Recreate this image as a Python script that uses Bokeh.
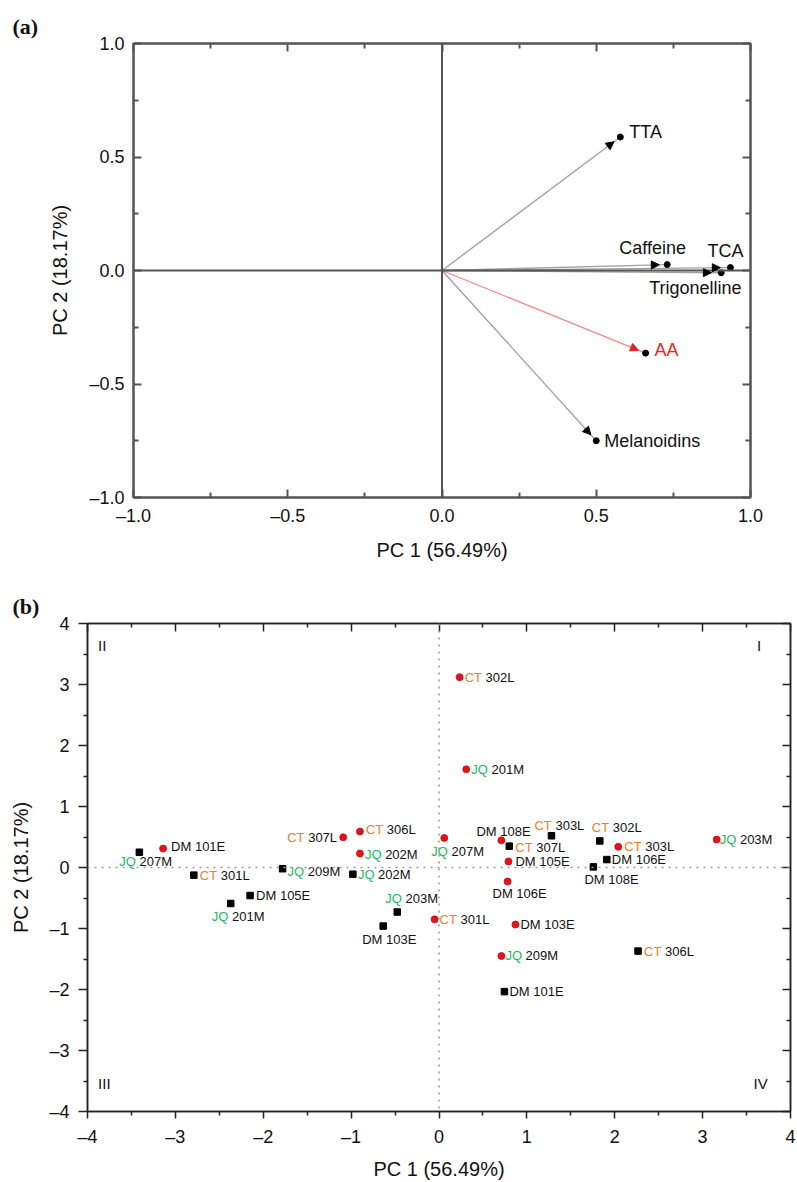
from bokeh.plotting import figure
from bokeh.models import (ColumnDataSource, Arrow, NormalHead, Span, Label,
                          LinearAxis, FixedTicker, Range1d, CustomJSTickFormatter)
from bokeh.core.properties import value
from bokeh.embed import file_html
from bokeh.resources import INLINE

FONT = "Liberation Sans"

# ---------------- data: panel (a) loadings ----------------
var_names = ["TTA", "Caffeine", "TCA", "Trigonelline", "AA", "Melanoidins"]
var_pc1 = [0.578, 0.730, 0.935, 0.905, 0.660, 0.500]
var_pc2 = [0.588, 0.026, 0.013, -0.010, -0.364, -0.750]
a_ticks = [-1.0, -0.5, 0.0, 0.5, 1.0]
a_tick_labels = ["\u20131.0", "\u20130.5", "0.0", "0.5", "1.0"]

# ---------------- data: panel (b) scores ----------------
b_pc1 = [-3.41, -3.14, -2.79, -1.78, -2.15, -2.37, -1.09, -0.90, -0.90, -0.98,
         -0.475, -0.635, -0.05, 0.06, 0.71, 0.80, 0.79, 0.78, 1.28, 1.83,
         2.04, 1.91, 1.757, 3.16, 0.87, 0.71, 0.745, 2.265, 0.235, 0.31]
b_pc2 = [0.25, 0.31, -0.125, -0.02, -0.46, -0.59, 0.495, 0.59, 0.23, -0.11,
         -0.73, -0.96, -0.85, 0.485, 0.445, 0.35, 0.10, -0.23, 0.52, 0.435,
         0.34, 0.13, 0.01, 0.457, -0.935, -1.45, -2.035, -1.37, 3.12, 1.61]
b_kind = ["sq", "ci", "sq", "sq", "sq", "sq", "ci", "ci", "ci", "sq",
          "sq", "sq", "ci", "ci", "ci", "sq", "ci", "ci", "sq", "sq",
          "ci", "sq", "sq", "ci", "ci", "ci", "sq", "sq", "ci", "ci"]
b_prefix = ["JQ", "DM", "CT", "JQ", "DM", "JQ", "CT", "CT", "JQ", "JQ",
            "JQ", "DM", "CT", "JQ", "DM", "CT", "DM", "DM", "CT", "CT",
            "CT", "DM", "DM", "JQ", "DM", "JQ", "DM", "CT", "CT", "JQ"]
b_suffix = ["207M", "101E", "301L", "209M", "105E", "201M", "307L", "306L", "202M", "202M",
            "203M", "103E", "301L", "207M", "108E", "307L", "105E", "106E", "303L", "302L",
            "303L", "106E", "108E", "203M", "103E", "209M", "101E", "306L", "302L", "201M"]
b_ticks = [-4, -3, -2, -1, 0, 1, 2, 3, 4]
b_tick_labels = ["\u20134", "\u20133", "\u20132", "\u20131", "0", "1", "2", "3", "4"]
quad_names = ["II", "I", "III", "IV"]

# ---------------- label placement (pixels) ----------------
a_lab_dx = [9, -48, -23, -72, 9, 8]
a_lab_dy = [-5, -17, -17, 15, -3, 0]
b_lab_dx = [-20, 8, 6, 5, 6, -19, -56, 6, 5, 5,
            -12, -21, 5, -13, -25, 6, 7, -15, -17, -8,
            6, 5, -9, 3, 5, 4, 5, 6, 5, 5]
b_lab_dy = [9, -2, 0, 3, 0, 13, 0, -2, 1, 0,
            -14, 13, 0, 14, -9, 1, 0, 12, -10, -13,
            0, 0, 13, 0, 0, 0, 0, 0, 0, 0]

AW = {'C': .722, 'T': .611, 'J': .5, 'Q': .778, 'D': .722, 'M': .833, ' ': .278}
def tw(s, size):
    return sum(AW.get(c, .556) for c in s) * size

PREFIX_COLORS = {"CT": "#f47d20", "JQ": "#22b860", "DM": "#111111"}


def tick_formatter(tv, tl):
    return CustomJSTickFormatter(args=dict(tvals=tv, tlabs=tl), code="""
        for (let i = 0; i < tvals.length; i++) {
            if (Math.abs(tvals[i] - tick) < 1e-9) { return tlabs[i]; }
        }
        return "";
    """)


def blank_formatter():
    return CustomJSTickFormatter(code="return '';")


def style_axis(ax, ticker, formatter, color, lw, tin, tout, min_in, min_out,
               font_size, standoff):
    ax.ticker = ticker
    ax.formatter = formatter
    ax.axis_line_color = color
    ax.axis_line_width = lw
    ax.major_tick_line_color = color
    ax.minor_tick_line_color = color
    ax.major_tick_line_width = lw
    ax.minor_tick_line_width = lw
    ax.major_tick_in = tin
    ax.major_tick_out = tout
    ax.minor_tick_in = min_in
    ax.minor_tick_out = min_out
    ax.major_label_text_font = FONT
    ax.major_label_text_font_size = font_size
    ax.major_label_text_color = "#111111"
    ax.major_label_standoff = standoff


def panel_title(p, text, offset):
    p.title.text = text
    p.title.align = "left"
    p.title.offset = offset
    p.title.text_font = "Liberation Serif"
    p.title.text_font_style = "bold"
    p.title.text_font_size = "22px"
    p.title.text_color = "#111111"


# ======================= panel (a) =======================
pa = figure(width=797, height=563, x_range=Range1d(-1, 1), y_range=Range1d(-1, 1),
            output_backend="svg", toolbar_location=None, title="(a)",
            min_border_left=133, min_border_right=47, min_border_top=43, min_border_bottom=63)
pa.grid.visible = False
pa.outline_line_color = "#555555"
pa.outline_line_width = 2
panel_title(pa, "(a)", -121)

a_ticker = FixedTicker(ticks=a_ticks, minor_ticks=[-0.75, -0.25, 0.25, 0.75])
style_axis(pa.xaxis[0], a_ticker, tick_formatter(a_ticks, a_tick_labels), "#555555", 2,
           8, 0, 5, 0, "18px", 8)
style_axis(pa.yaxis[0], a_ticker, tick_formatter(a_ticks, a_tick_labels), "#555555", 2,
           8, 0, 5, 0, "18px", 9)
pa.xaxis[0].axis_label = "PC 1 (56.49%)"
pa.yaxis[0].axis_label = "PC 2 (18.17%)"
for ax in (pa.xaxis[0], pa.yaxis[0]):
    ax.axis_label_text_font = FONT
    ax.axis_label_text_font_size = "20px"
    ax.axis_label_text_font_style = "normal"
    ax.axis_label_text_color = "#111111"
pa.xaxis[0].axis_label_standoff = 10
pa.yaxis[0].axis_label_standoff = 15

for loc in ("above", "right"):
    ax = LinearAxis()
    style_axis(ax, a_ticker, blank_formatter(), "#555555", 2, 8, 0, 5, 0, "0px", 0)
    pa.add_layout(ax, loc)

pa.add_layout(Span(location=0, dimension="width", line_color="#555555", line_width=2))
pa.add_layout(Span(location=0, dimension="height", line_color="#555555", line_width=2))

seg_colors = ["#f28b8b" if n == "AA" else "#a0a0a0" for n in var_names]
pa.segment(x0=[0] * len(var_names), y0=[0] * len(var_names), x1=var_pc1, y1=var_pc2,
           line_color=seg_colors, line_width=1.3)

idx_black = [i for i, n in enumerate(var_names) if n != "AA"]
idx_red = [i for i, n in enumerate(var_names) if n == "AA"]
for idx, col in ((idx_black, "black"), (idx_red, "#e82020")):
    src = ColumnDataSource(dict(
        x0=[0.0] * len(idx), y0=[0.0] * len(idx),
        x1=[0.965 * var_pc1[i] for i in idx], y1=[0.965 * var_pc2[i] for i in idx]))
    pa.add_layout(Arrow(end=NormalHead(size=8, fill_color=col, line_color=col, line_width=1),
                        x_start="x0", y_start="y0", x_end="x1", y_end="y1",
                        line_alpha=0, source=src))

pa.scatter(var_pc1, var_pc2, size=6, color="black", marker="circle")

a_lab_colors = ["#ff1a1a" if n == "AA" else "#111111" for n in var_names]
pa.text(x=var_pc1, y=var_pc2, text=var_names, x_offset=a_lab_dx, y_offset=a_lab_dy,
        text_color=a_lab_colors, text_font=value(FONT), text_font_size="18px",
        text_baseline="middle", text_align="left")

# ======================= panel (b) =======================
pb = figure(width=797, height=619, x_range=Range1d(-4, 4), y_range=Range1d(-4, 4),
            output_backend="svg", toolbar_location=None, title="(b)",
            min_border_left=87, min_border_right=7, min_border_top=60, min_border_bottom=69)
pb.grid.visible = False
pb.outline_line_color = "#222222"
pb.outline_line_width = 1.5
panel_title(pb, "(b)", -75)

b_minor = [t + 0.5 for t in b_ticks[:-1]]
b_ticker = FixedTicker(ticks=b_ticks, minor_ticks=b_minor)
style_axis(pb.xaxis[0], b_ticker, tick_formatter(b_ticks, b_tick_labels), "#222222", 1.5,
           0, 7, 0, 4, "18px", 8)
style_axis(pb.yaxis[0], b_ticker, tick_formatter(b_ticks, b_tick_labels), "#222222", 1.5,
           0, 9, 0, 4, "18px", 9)
pb.xaxis[0].axis_label = "PC 1 (56.49%)"
pb.yaxis[0].axis_label = "PC 2 (18.17%)"
for ax in (pb.xaxis[0], pb.yaxis[0]):
    ax.axis_label_text_font = FONT
    ax.axis_label_text_font_size = "20px"
    ax.axis_label_text_font_style = "normal"
    ax.axis_label_text_color = "#111111"
pb.xaxis[0].axis_label_standoff = 8
pb.yaxis[0].axis_label_standoff = 14

for loc in ("above", "right"):
    ax = LinearAxis()
    style_axis(ax, b_ticker, blank_formatter(), "#222222", 1.5, 8, 0, 4, 0, "0px", 0)
    pb.add_layout(ax, loc)

pb.add_layout(Span(location=0, dimension="width", line_color="#999999", line_width=1.5,
                   line_dash="2 5"))
pb.add_layout(Span(location=0, dimension="height", line_color="#999999", line_width=1.5,
                   line_dash="2 5"))

ci = [i for i, k in enumerate(b_kind) if k == "ci"]
sq = [i for i, k in enumerate(b_kind) if k == "sq"]
pb.scatter([b_pc1[i] for i in sq], [b_pc2[i] for i in sq], marker="square", size=6.5,
           fill_color="black", line_color="black")
pb.scatter([b_pc1[i] for i in ci], [b_pc2[i] for i in ci], marker="circle", size=7,
           fill_color="#e3121b", line_color="#c40f16", line_width=0.8)

LF = 13
suffix_dx = [b_lab_dx[i] + tw(b_prefix[i] + " ", LF) for i in range(len(b_pc1))]
pb.text(x=b_pc1, y=b_pc2, text=b_prefix, x_offset=b_lab_dx, y_offset=b_lab_dy,
        text_color=[PREFIX_COLORS[p] for p in b_prefix], text_font=value(FONT),
        text_font_size=f"{LF}px", text_baseline="middle", text_align="left")
pb.text(x=b_pc1, y=b_pc2, text=b_suffix, x_offset=suffix_dx, y_offset=b_lab_dy,
        text_color="#111111", text_font=value(FONT),
        text_font_size=f"{LF}px", text_baseline="middle", text_align="left")

quad_x = [-3.88, 3.62, -3.88, 3.58]
quad_y = [3.64, 3.64, -3.54, -3.54]
for name, qx, qy in zip(quad_names, quad_x, quad_y):
    pb.add_layout(Label(x=qx, y=qy, text=name, text_font=FONT, text_font_size="15px",
                        text_baseline="middle", text_align="left", text_color="#111111"))

open("out.html", "w").write(file_html([pa, pb], INLINE))
